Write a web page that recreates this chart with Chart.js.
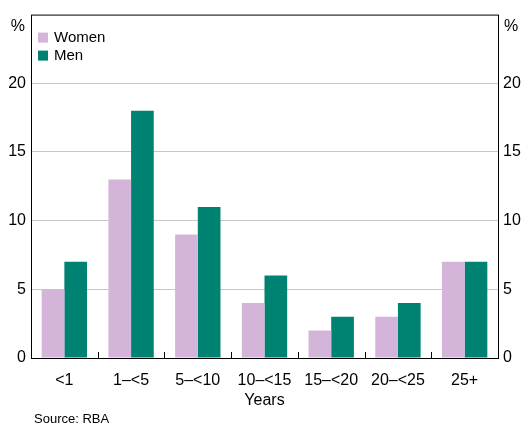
<!DOCTYPE html>
<html><head><meta charset="utf-8">
<script src="https://cdn.jsdelivr.net/npm/chart.js@4"></script>
<style>body{margin:0;background:#fff}#c{display:block}</style>
</head><body>
<canvas id="c" width="530" height="426"></canvas>
<script>
const categories = ['<1', '1–<5', '5–<10', '10–<15', '15–<20', '20–<25', '25+'];
const women = [5, 13, 9, 4, 2, 3, 7];
const men = [7, 18, 11, 6, 3, 4, 7];
const yTicks = [0, 5, 10, 15, 20];

const font = 'Arial, "Liberation Sans", sans-serif';

const extras = {
  id: 'extras',
  afterDraw(chart) {
    const ctx = chart.ctx, a = chart.chartArea;
    ctx.save();
    ctx.strokeStyle = '#000'; ctx.lineWidth = 1;
    ctx.strokeRect(a.left + 0.5, a.top + 0.5, a.right - a.left, a.bottom - a.top);
    // inward category tick marks
    const step = (a.right - a.left) / categories.length;
    ctx.beginPath();
    for (let i = 1; i < categories.length; i++) {
      const x = Math.round(a.left + i * step) + 0.5;
      ctx.moveTo(x, a.bottom); ctx.lineTo(x, a.bottom - 6);
    }
    ctx.stroke();
    ctx.fillStyle = '#000';
    ctx.font = '16px ' + font;
    ctx.textBaseline = 'middle';
    ctx.textAlign = 'right'; ctx.fillText('%', a.left - 6, a.top + 12);
    ctx.textAlign = 'left'; ctx.fillText('%', a.right + 6, a.top + 12);
    ctx.textAlign = 'center'; ctx.fillText('Years', (a.left + a.right) / 2, a.bottom + 43);
    ctx.font = '13px ' + font;
    ctx.textAlign = 'left'; ctx.fillText('Source: RBA', 34, a.bottom + 61);
    ctx.font = '15px ' + font;
    const items = [['Women', '#d4b5d9'], ['Men', '#008272']];
    items.forEach((it, i) => {
      const y = a.top + 23 + i * 18;
      ctx.fillStyle = it[1]; ctx.fillRect(a.left + 7, y - 5, 10, 10);
      ctx.fillStyle = '#000'; ctx.fillText(it[0], a.left + 23, y);
    });
    ctx.restore();
  }
};

const yAxis = (pos) => ({
  position: pos, min: 0, max: 25,
  afterBuildTicks: ax => { ax.ticks = yTicks.map(v => ({ value: v })); },
  afterFit: ax => { ax.width = pos === 'left' ? 31 : 32; },
  grid: { display: pos === 'left', color: '#c8c8c8', drawTicks: false, drawOnChartArea: true },
  border: { display: false },
  ticks: { color: '#000', font: { size: 16, family: font }, padding: 5 }
});

new Chart(document.getElementById('c'), {
  type: 'bar',
  data: {
    labels: categories,
    datasets: [
      { label: 'Women', data: women, backgroundColor: '#d4b5d9' },
      { label: 'Men', data: men, backgroundColor: '#008272' }
    ]
  },
  options: {
    responsive: false, animation: false,
    layout: { padding: { top: -1, left: 0, right: 0, bottom: 0 } },
    datasets: { bar: { categoryPercentage: 0.68, barPercentage: 1 } },
    plugins: { legend: { display: false }, tooltip: { enabled: false } },
    scales: {
      x: {
        afterFit: ax => { ax.height = 68; },
        grid: { display: false },
        border: { display: false },
        ticks: { color: '#000', font: { size: 16, family: font }, padding: 5 }
      },
      y: yAxis('left'),
      y2: yAxis('right')
    }
  },
  plugins: [extras]
});
</script>
</body></html>
